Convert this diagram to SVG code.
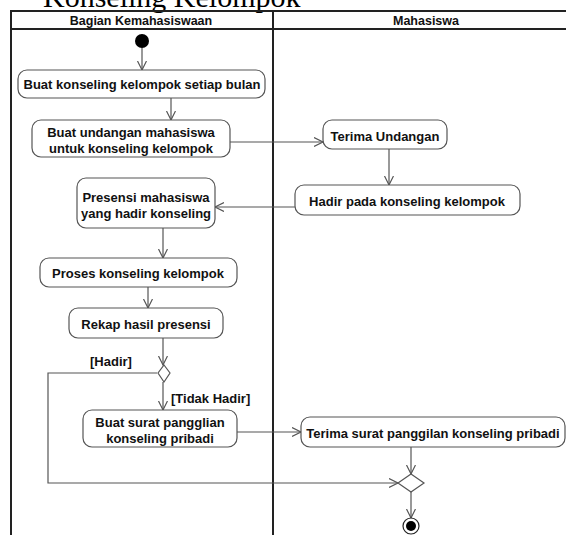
<svg xmlns="http://www.w3.org/2000/svg" width="566" height="535" viewBox="0 0 566 535">
<defs>
<style>
.lane{stroke:#222;stroke-width:2;fill:none}
.act{fill:#fff;stroke:#555;stroke-width:1.2}
.t{font-family:"Liberation Sans",Arial,sans-serif;font-weight:bold;font-size:13px;fill:#111;text-anchor:middle}
.h{font-family:"Liberation Sans",Arial,sans-serif;font-weight:bold;font-size:12.5px;fill:#111;text-anchor:middle}
.g{font-family:"Liberation Sans",Arial,sans-serif;font-weight:bold;font-size:13px;fill:#111}
.c{stroke:#555;stroke-width:1.2;fill:none;marker-end:url(#arr)}
.cn{stroke:#555;stroke-width:1.2;fill:none}
</style>
<marker id="arr" markerUnits="userSpaceOnUse" markerWidth="12" markerHeight="12" refX="9" refY="5" orient="auto">
<path d="M0,0.5 L9,5 L0,9.5" fill="none" stroke="#555" stroke-width="1.2"/>
</marker>
</defs>
<rect width="566" height="535" fill="#fff"/>
<text x="43" y="7" font-family="Liberation Serif,Times New Roman,serif" font-size="30" fill="#000">Konseling Kelompok</text>
<g id="lanes">
<path class="lane" d="M11,535 V11 H566 M11,29 H566 M273,11 V535"/>
<text class="h" x="141" y="25">Bagian Kemahasiswaan</text>
<text class="h" x="426" y="25">Mahasiswa</text>
</g>
<g id="connectors">
<path class="c" d="M142,48 V70"/>
<path class="c" d="M171,98 V120"/>
<path class="c" d="M230,142 H323"/>
<path class="c" d="M389,149 V185"/>
<path class="c" d="M295,207 H215"/>
<path class="c" d="M163,228 V258"/>
<path class="c" d="M148,287 V308"/>
<path class="c" d="M163,338 V365"/>
<path class="c" d="M157,373 H48 V483 H398"/>
<path class="c" d="M163,382 V410"/>
<path class="c" d="M237,432 H301"/>
<path class="c" d="M411,447 V474"/>
<path class="c" d="M411,492 V518"/>
<text class="g" x="90" y="366">[Hadir]</text>
<text class="g" x="171" y="403">[Tidak Hadir]</text>
</g>
<g id="start"><circle cx="142" cy="41" r="7" fill="#000"/></g>
<g id="a1"><rect class="act" x="18" y="70" width="247" height="28" rx="9"/><text class="t" x="142" y="89">Buat konseling kelompok setiap bulan</text></g>
<g id="a2"><rect class="act" x="32" y="120" width="198" height="37" rx="9"/><text class="t" x="131" y="137">Buat undangan mahasiswa</text><text class="t" x="131" y="152.5">untuk konseling kelompok</text></g>
<g id="a3"><rect class="act" x="323" y="120" width="124" height="29" rx="9"/><text class="t" x="385" y="140.5">Terima Undangan</text></g>
<g id="a4"><rect class="act" x="295" y="185" width="225" height="30" rx="9"/><text class="t" x="407" y="205.5">Hadir pada konseling kelompok</text></g>
<g id="a5"><rect class="act" x="77" y="178" width="138" height="50" rx="9"/><text class="t" x="146" y="201.5">Presensi mahasiswa</text><text class="t" x="146" y="217.5">yang hadir konseling</text></g>
<g id="a6"><rect class="act" x="40" y="258" width="197" height="29" rx="9"/><text class="t" x="138" y="277.5">Proses konseling kelompok</text></g>
<g id="a7"><rect class="act" x="69" y="308" width="154" height="30" rx="9"/><text class="t" x="146" y="328.5">Rekap hasil presensi</text></g>
<g id="d1"><path class="cn" fill="#fff" d="M164,365 L170,373 L164,382 L158,373 Z" style="fill:#fff"/></g>
<g id="a8"><rect class="act" x="83" y="410" width="154" height="37" rx="9"/><text class="t" x="160" y="426.5">Buat surat pangglian</text><text class="t" x="160" y="443">konseling pribadi</text></g>
<g id="a9"><rect class="act" x="301" y="417" width="264" height="30" rx="9"/><text class="t" x="433" y="437.5">Terima surat panggilan konseling pribadi</text></g>
<g id="d2"><path class="cn" d="M411,474 L424,483 L411,492 L398,483 Z" style="fill:#fff"/></g>
<g id="end"><circle cx="411" cy="526" r="8" fill="#fff" stroke="#222" stroke-width="1.2"/><circle cx="411" cy="526" r="5" fill="#000"/></g>
</svg>
